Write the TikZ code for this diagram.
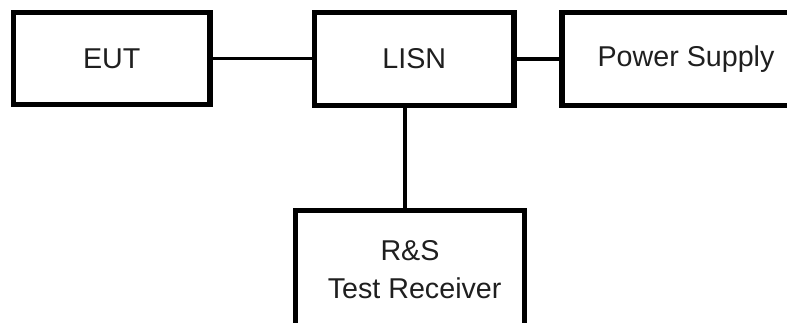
\documentclass[tikz,border=0pt]{standalone}
\usepackage{fontspec}
\setmainfont{Liberation Sans}
\usetikzlibrary{positioning, calc}

\tikzset{
  blockbox/.style={draw, line width=3.8pt, align=center, inner sep=0pt,
    font=\fontsize{21.5}{28.5}\selectfont, text=black!88},
  wire/.style={line width=2.6pt}
}

\begin{document}
\begin{tikzpicture}[x=0.75pt, y=-0.75pt]
\useasboundingbox (0,0) rectangle (787,322);
\clip (0,0) rectangle (787,322);
% blocks
\node[blockbox, minimum width=196.5*0.75pt, minimum height=92*0.75pt] (eut) at (111.75,58.5) {EUT};
\node[blockbox, minimum width=199.5*0.75pt, minimum height=93*0.75pt] (lisn) at (414.25,59) {LISN};
\node[blockbox, minimum width=248*0.75pt, minimum height=93*0.75pt] (supply) at (686,59) {Power Supply};
\node[blockbox, minimum width=229.5*0.75pt, minimum height=119.5*0.75pt] (receiver) at (410,270) {R\&S\\ \hspace*{7pt}Test Receiver};
% wires
\coordinate (tap) at (405,0);
\draw[wire] (eut.east) -- (eut.east -| lisn.west);
\draw[wire] (lisn.east) -- (supply.west);
\draw[wire] (lisn.south -| tap) -- (receiver.north -| tap);
\end{tikzpicture}
\end{document}
